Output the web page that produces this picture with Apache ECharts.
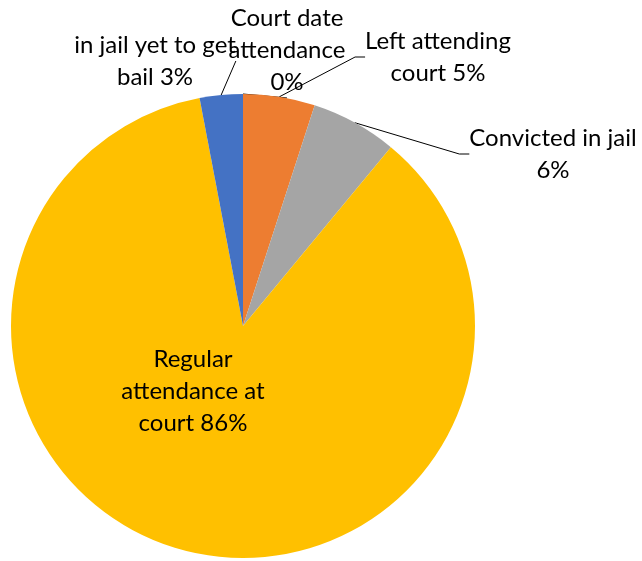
<!DOCTYPE html>
<html>
<head>
<meta charset="utf-8">
<title>Court attendance</title>
<script src="https://cdn.jsdelivr.net/npm/echarts@6/dist/echarts.min.js"></script>
<style>
    html, body { margin: 0; padding: 0; background: #fff; }
    #main { width: 642px; height: 561px; }
</style>
</head>
<body>
<div id="main"></div>
<script>
// slices, clockwise from 12 o'clock
var categories = ['Court date attendance', 'Left attending court', 'Convicted in jail', 'Regular attendance at court', 'in jail yet to get bail'];
var labelNames = ['Court date\nattendance\n', 'Left attending\ncourt ', 'Convicted in jail\n', 'Regular\nattendance at\ncourt ', 'in jail yet to get\nbail '];
var values = [0, 5, 6, 86, 3];
var colors = ['#5B9BD5', '#ED7D31', '#A5A5A5', '#FFC000', '#4472C4'];

// where each label box sits (center point)
var labelPos = [[287, 50], [438, 57], [553, 154], [193, 391], [155, 61]];

var total = values.reduce(function (a, b) { return a + b; }, 0);

var data = categories.map(function (name, i) {
    var item = {
        name: name,
        value: values[i],
        itemStyle: { color: colors[i] }
    };
    if (i === 3) {
        item.label = { position: 'inside' };
        item.labelLine = { show: false };
    }
    return item;
});

var chart = echarts.init(document.getElementById('main'));
chart.setOption({
    backgroundColor: '#fff',
    animation: false,
    series: [{
        type: 'pie',
        center: [243, 326],
        radius: 232,
        startAngle: 90,
        clockwise: true,
        data: data,
        itemStyle: { borderWidth: 0 },
        label: {
            show: true,
            color: '#000',
            fontFamily: 'Lato',
            fontSize: 24,
            lineHeight: 32,
            overflow: 'none',
            formatter: function (p) {
                return labelNames[p.dataIndex] + Math.round(values[p.dataIndex] / total * 100) + '%';
            }
        },
        labelLine: {
            show: true,
            length: 10,
            length2: 10,
            lineStyle: { color: '#000', width: 1 }
        },
        labelLayout: function (p) {
            var pos = labelPos[p.dataIndex];
            return { x: pos[0], y: pos[1], align: 'center', verticalAlign: 'middle' };
        },
        emphasis: { disabled: true }
    }]
});
window.onresize = chart.resize;
</script>
</body>
</html>
